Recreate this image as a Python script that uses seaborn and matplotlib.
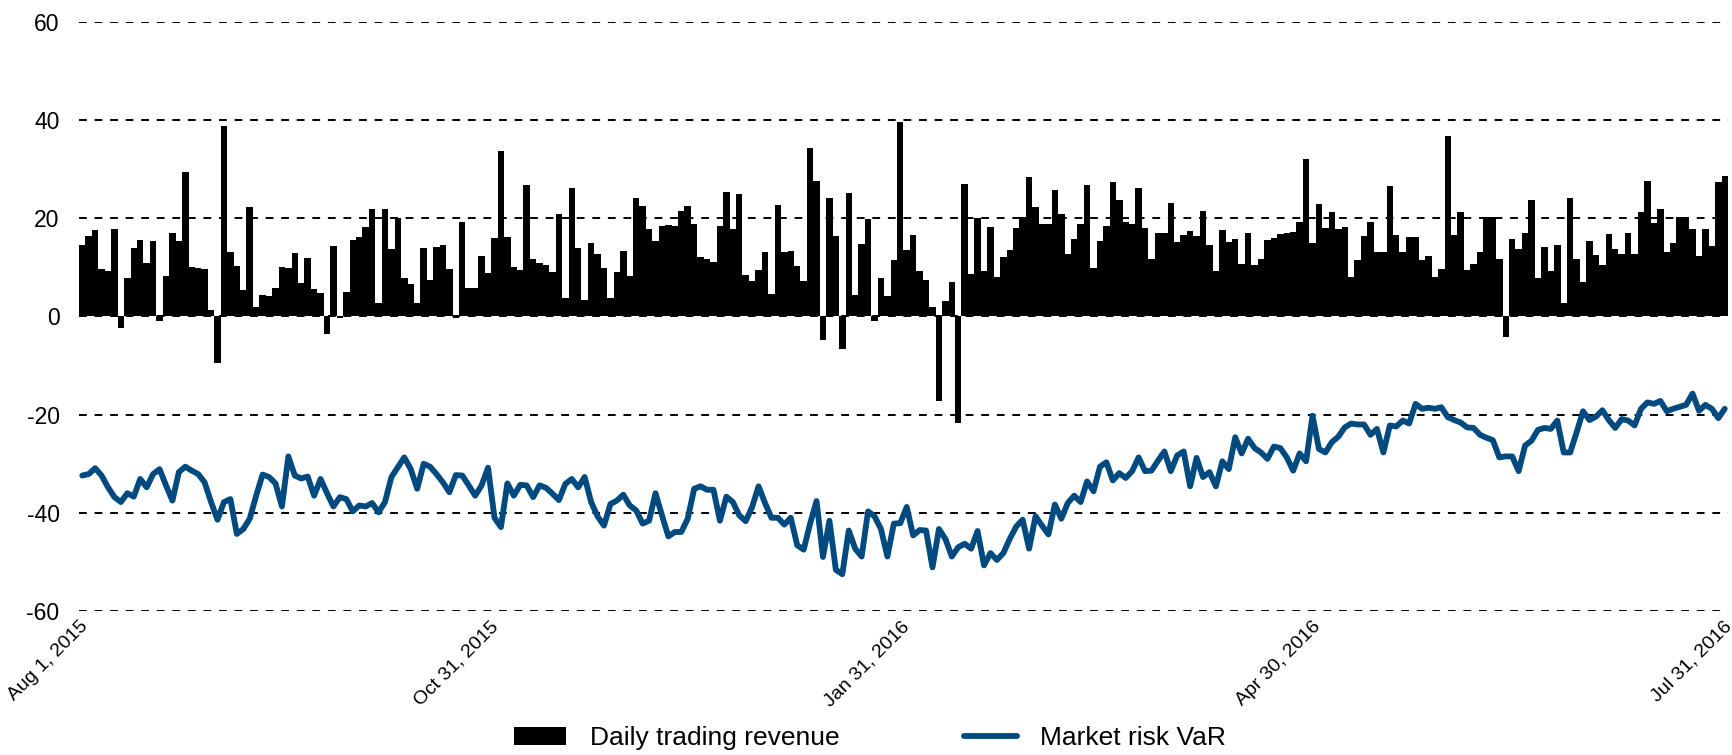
import numpy as np
import pandas as pd
import matplotlib
matplotlib.use("Agg")
from matplotlib import pyplot as plt
import seaborn as sns

# daily trading revenue, one value per trading day
daily_revenue = [
    14.5, 16.5, 17.6, 9.6, 9.3, 17.8, -2.4, 7.9, 13.9, 15.5, 10.9, 15.3, -0.9, 8.3, 17.1,
    15.3, 29.5, 10.1, 9.8, 9.6, 1.4, -9.5, 38.8, 13.2, 10.2, 5.4, 22.4, 2.0, 4.3, 4.1,
    5.8, 10.1, 9.8, 13.0, 6.8, 11.9, 5.5, 4.7, -3.5, 14.4, -0.4, 4.9, 15.5, 16.1,
    18.3, 21.8, 2.8, 22.0, 13.7, 20.0, 7.8, 6.6, 2.7, 13.9, 7.4, 14.2, 14.5, 9.6, -0.4,
    19.3, 5.8, 5.8, 12.3, 8.9, 15.9, 33.8, 16.1, 10.0, 9.5, 26.7, 11.7, 10.8, 10.4, 9.1,
    20.9, 3.7, 26.1, 13.9, 3.4, 15.0, 12.7, 9.8, 3.7, 9.1, 13.4, 8.3, 24.2,
    22.6, 17.8, 15.4, 18.4, 18.6, 18.4, 21.4, 22.5, 18.9, 12.2, 11.8, 11.0, 18.4, 25.4,
    17.8, 24.9, 8.4, 7.3, 9.4, 13.2, 4.5, 22.8, 13.2, 13.4, 10.2, 7.3, 34.4, 27.6, -4.8,
    24.2, 16.4, -6.6, 25.1, 4.4, 14.7, 19.8, -1.0, 7.9, 4.2, 11.5, 39.7, 13.6, 16.6, 9.2,
    7.4, 2.0, -17.3, 3.1, 7.1, -21.6, 26.9, 8.6, 20.1, 9.2, 18.3, 8.1, 12.2, 13.6, 18.0,
    20.3, 28.5, 22.4, 18.9, 18.9, 25.8, 20.8, 12.7, 15.7, 18.9, 26.7, 9.8, 15.4, 18.4,
    27.4, 23.7, 19.3, 18.8, 26.2, 18.0, 11.8, 17.1, 17.1, 23.2, 15.1, 16.7, 17.4, 16.5, 21.5,
    14.5, 9.3, 17.6, 15.1, 15.7, 10.6, 17.1, 10.5, 11.8, 15.6, 15.9, 16.9, 17.1, 17.3,
    19.3, 32.0, 14.9, 23.0, 18.1, 21.2, 17.8, 18.3, 8.1, 11.5, 16.4, 19.3, 13.2, 13.2,
    26.6, 16.6, 13.2, 16.2, 16.1, 11.5, 12.4, 8.1, 9.6, 36.7, 16.6, 21.3, 9.4, 10.6, 13.2,
    20.3, 20.3, 11.7, -4.1, 15.7, 13.7, 17.1, 23.7, 7.9, 14.2, 9.2, 14.5, 2.8, 24.2, 11.7,
    7.1, 15.4, 12.5, 10.4, 16.9, 13.7, 12.8, 17.1, 12.8, 21.3, 27.7, 19.1, 22.0, 13.2,
    14.9, 20.3, 19.8, 17.8, 12.3, 17.8, 14.4, 27.3, 28.7,
]

# market risk VaR, same trading days
market_var = [
    -32.4, -32.1, -30.9, -32.4, -34.8, -36.8, -37.8, -36.0, -36.7, -33.1, -34.8, -32.1,
    -31.1, -34.4, -37.5, -31.7, -30.6, -31.4, -32.1, -33.8, -37.8, -41.4, -37.8, -37.2,
    -44.3, -43.3, -41.2, -36.5, -32.2, -32.7, -34.0, -38.7, -28.5, -32.4, -33.0, -32.6,
    -36.5, -33.1, -36.0, -38.7, -36.8, -37.2, -39.7, -38.5,
    -38.7, -38.0, -39.9, -37.8, -32.7, -30.7, -28.7, -31.1, -35.1, -30.0, -30.6, -32.1,
    -33.8, -35.8, -32.3, -32.4, -34.4, -36.5, -34.4, -30.8, -41.0, -42.9, -34.0, -36.5,
    -34.3, -34.4, -36.8, -34.4, -34.9, -36.1, -37.4, -34.1, -33.1, -34.8, -32.7, -37.8,
    -40.7, -42.6, -38.2, -37.5, -36.3, -38.5, -39.5,
    -42.2, -41.6, -36.0, -40.5, -44.8, -43.9, -43.9, -41.2, -35.1, -34.6, -35.3, -35.3,
    -41.6, -36.7, -37.8, -40.5, -41.7, -38.8, -34.6, -38.0, -41.0, -41.0, -42.4, -41.0,
    -46.6, -47.5, -42.2, -37.6, -49.0, -41.6, -51.6, -52.5, -43.6, -47.3, -48.9, -39.7,
    -40.7, -43.3, -48.9, -42.2, -42.1, -38.8, -44.6, -43.5,
    -43.6, -51.1, -43.3, -45.3, -48.9, -47.0, -46.3, -47.3, -43.7, -50.7, -48.2, -49.6,
    -48.2, -45.3, -42.8, -41.4, -47.3, -40.7, -42.6, -44.4, -38.3, -41.2, -38.0, -36.5,
    -37.8, -33.6, -35.6, -30.6, -29.7, -33.4, -31.9, -32.9, -31.5, -28.7, -31.5, -31.4,
    -29.4, -27.5, -31.5, -28.3, -27.5, -34.6, -28.8, -32.7,
    -31.7, -34.6, -29.5, -31.1, -24.6, -27.9, -24.9, -26.8, -27.7, -29.0, -26.5, -26.8,
    -28.7, -31.4, -27.9, -29.5, -20.2, -27.0, -27.7, -25.6, -24.5, -22.6, -21.8, -22.0,
    -22.0, -24.1, -22.9, -27.7, -22.2, -22.4, -21.2, -21.8, -17.8, -18.8, -18.6, -18.8,
    -18.5, -20.5, -21.1, -21.6, -22.6, -22.7, -24.1,
    -24.7, -25.2, -28.7, -28.5, -28.5, -31.5, -26.3, -25.3, -23.1, -22.7, -22.9, -21.2,
    -27.7, -27.7, -23.6, -19.3, -21.1, -20.4, -19.1, -21.1, -22.7, -20.9, -21.2, -22.2,
    -18.8, -17.5, -17.8, -17.2, -19.3, -18.8, -18.4, -18.0, -15.7, -19.2, -18.0, -18.8,
    -20.7, -18.8,
]

tick_labels = ["Aug 1, 2015", "Oct 31, 2015", "Jan 31, 2016", "Apr 30, 2016", "Jul 31, 2016"]
y_ticks = [-60, -40, -20, 0, 20, 40, 60]

n_days = len(daily_revenue)
df = pd.DataFrame({
    "day": np.arange(n_days),
    "revenue": daily_revenue,
    "var": market_var,
})

sns.set_style("white")
plt.rcParams["font.family"] = ["Liberation Sans", "DejaVu Sans"]
plt.rcParams["text.color"] = "black"
plt.rcParams["xtick.color"] = "black"
plt.rcParams["ytick.color"] = "black"

fig = plt.figure(figsize=(17.33, 7.55), dpi=100)
ax = fig.add_axes([0.0456, 0.1907, 0.9515, 0.7802])

var_color = "#004a80"

sns.barplot(data=df, x="day", y="revenue", native_scale=True, color="black",
            width=1.0, errorbar=None, linewidth=0, saturation=1,
            label="Daily trading revenue", ax=ax, zorder=2)
sns.lineplot(data=df, x="day", y="var", color=var_color, linewidth=4.2,
             label="Market risk VaR", ax=ax, zorder=3)

ax.set_xlim(-0.5, n_days - 0.5)
ax.set_ylim(-60, 60)
ax.set_yticks(y_ticks)
ax.set_yticklabels([str(v) for v in y_ticks], fontsize=16.5)
ax.set_xticks(np.linspace(-0.5, n_days - 1.2, len(tick_labels)))
ax.set_xticklabels(tick_labels, rotation=45, ha="right", va="top",
                   rotation_mode="anchor", fontsize=14)
ax.tick_params(axis="both", length=0)
ax.tick_params(axis="y", pad=14)
ax.tick_params(axis="x", pad=5)
ax.set_xlabel("")
ax.set_ylabel("")

ax.yaxis.grid(True, color="black", linestyle=(0, (4, 4)), linewidth=1.4, zorder=0)
ax.xaxis.grid(False)
ax.set_axisbelow(True)
sns.despine(ax=ax, left=True, bottom=True)

# legend: bars first, then the VaR line
handles, labels = ax.get_legend_handles_labels()
ax.get_legend().remove()
order = [labels.index("Daily trading revenue"), labels.index("Market risk VaR")]
fig.legend([handles[i] for i in order], [labels[i] for i in order],
           loc="center", bbox_to_anchor=(0.502, 0.022), ncol=2,
           frameon=False, fontsize=19, handlelength=2.0, handletextpad=0.9,
           columnspacing=4.7, labelcolor="black")

fig.savefig("out.png", dpi=100)
